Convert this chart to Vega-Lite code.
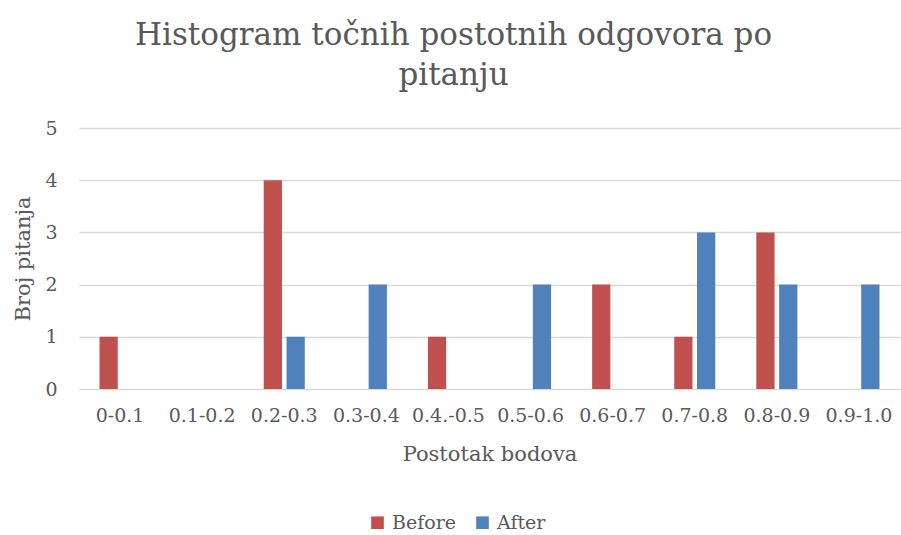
{
  "$schema": "https://vega.github.io/schema/vega-lite/v6.json",
  "width": 821,
  "height": 261,
  "autosize": {"type": "none"},
  "padding": {"left": 79, "top": 128, "right": 1, "bottom": 146},
  "background": "white",
  "title": {
    "text": ["Histogram točnih postotnih odgovora po", "pitanju"],
    "font": "DejaVu Serif",
    "fontSize": 31,
    "fontWeight": "normal",
    "color": "#595959",
    "anchor": "middle",
    "frame": "group",
    "dx": -36,
    "offset": 27,
    "lineHeight": 40
  },
  "data": {
    "values": [
      {"bin": "0-0.1", "series": "Before", "count": 1},
      {"bin": "0-0.1", "series": "After", "count": 0},
      {"bin": "0.1-0.2", "series": "Before", "count": 0},
      {"bin": "0.1-0.2", "series": "After", "count": 0},
      {"bin": "0.2-0.3", "series": "Before", "count": 4},
      {"bin": "0.2-0.3", "series": "After", "count": 1},
      {"bin": "0.3-0.4", "series": "Before", "count": 0},
      {"bin": "0.3-0.4", "series": "After", "count": 2},
      {"bin": "0.4.-0.5", "series": "Before", "count": 1},
      {"bin": "0.4.-0.5", "series": "After", "count": 0},
      {"bin": "0.5-0.6", "series": "Before", "count": 0},
      {"bin": "0.5-0.6", "series": "After", "count": 2},
      {"bin": "0.6-0.7", "series": "Before", "count": 2},
      {"bin": "0.6-0.7", "series": "After", "count": 0},
      {"bin": "0.7-0.8", "series": "Before", "count": 1},
      {"bin": "0.7-0.8", "series": "After", "count": 3},
      {"bin": "0.8-0.9", "series": "Before", "count": 3},
      {"bin": "0.8-0.9", "series": "After", "count": 2},
      {"bin": "0.9-1.0", "series": "Before", "count": 0},
      {"bin": "0.9-1.0", "series": "After", "count": 2}
    ]
  },
  "mark": {"type": "bar"},
  "encoding": {
    "x": {
      "field": "bin",
      "type": "nominal",
      "sort": ["0-0.1", "0.1-0.2", "0.2-0.3", "0.3-0.4", "0.4.-0.5", "0.5-0.6", "0.6-0.7", "0.7-0.8", "0.8-0.9", "0.9-1.0"],
      "scale": {"paddingInner": 0.5, "paddingOuter": 0.25},
      "axis": {
        "title": "Postotak bodova",
        "labelAngle": 0,
        "labelFont": "DejaVu Serif",
        "labelFontSize": 19,
        "labelColor": "#595959",
        "labelPadding": 17,
        "titleFont": "DejaVu Serif",
        "titleFontSize": 21,
        "titleFontWeight": "normal",
        "titleColor": "#595959",
        "titlePadding": 18,
        "ticks": false,
        "domain": false,
        "grid": false
      }
    },
    "xOffset": {
      "field": "series",
      "type": "nominal",
      "sort": ["Before", "After"],
      "scale": {"paddingInner": 0.2}
    },
    "y": {
      "field": "count",
      "type": "quantitative",
      "scale": {"domain": [0, 5]},
      "axis": {
        "title": "Broj pitanja",
        "values": [0, 1, 2, 3, 4, 5],
        "labelFont": "DejaVu Serif",
        "labelFontSize": 19,
        "labelColor": "#595959",
        "labelPadding": 22,
        "titleFont": "DejaVu Serif",
        "titleFontSize": 21,
        "titleFontWeight": "normal",
        "titleColor": "#595959",
        "titlePadding": 11,
        "ticks": false,
        "domain": false,
        "grid": true,
        "gridColor": "#D9D9D9",
        "gridWidth": 1.5
      }
    },
    "color": {
      "field": "series",
      "type": "nominal",
      "scale": {"domain": ["Before", "After"], "range": ["#C0504D", "#4F81BD"]},
      "legend": {
        "title": null,
        "orient": "none",
        "direction": "horizontal",
        "legendX": 289,
        "legendY": 385,
        "symbolType": "square",
        "symbolSize": 160,
        "symbolStrokeWidth": 0,
        "labelFont": "DejaVu Serif",
        "labelFontSize": 19,
        "labelColor": "#595959",
        "columnPadding": 16,
        "labelOffset": 5
      }
    }
  },
  "config": {"view": {"stroke": null}}
}
